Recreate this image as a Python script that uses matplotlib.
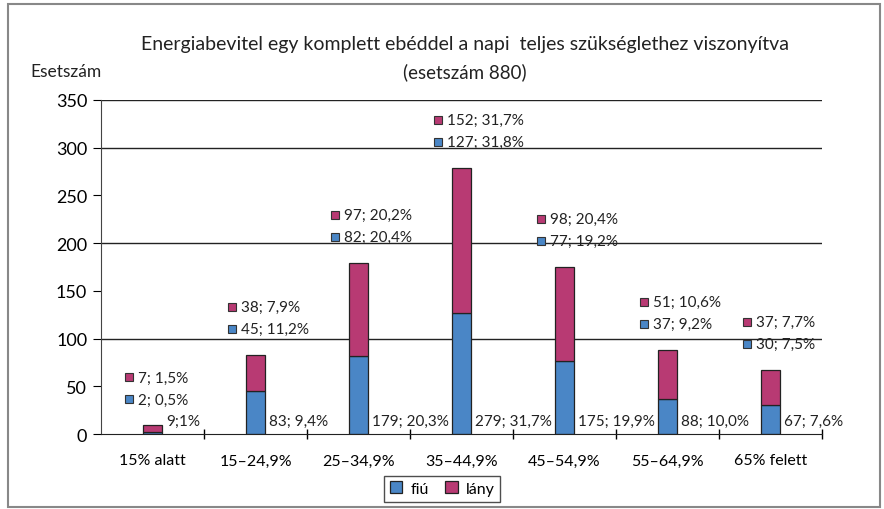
import matplotlib.pyplot as plt
from matplotlib.patches import Rectangle
from matplotlib.transforms import offset_copy
import numpy as np

plt.rcParams['font.family'] = ['Lato', 'DejaVu Sans']

# Data
categories = ["15% alatt", "15–24,9%", "25–34,9%", "35–44,9%", "45–54,9%", "55–64,9%", "65% felett"]
fiu = [2, 45, 82, 127, 77, 37, 30]
lany = [7, 38, 97, 152, 98, 51, 37]
fiu_pct = ["0,5%", "11,2%", "20,4%", "31,8%", "19,2%", "9,2%", "7,5%"]
lany_pct = ["1,5%", "7,9%", "20,2%", "31,7%", "20,4%", "10,6%", "7,7%"]
total_labels = ["9;1%", "83; 9,4%", "179; 20,3%", "279; 31,7%", "175; 19,9%", "88; 10,0%", "67; 7,6%"]

blue = "#4a86c6"
magenta = "#b83a73"

fig = plt.figure(figsize=(8.84, 5.10), dpi=100)
ax = fig.add_axes([0.1143, 0.147, 0.8157, 0.655])

x = np.arange(len(categories))
w = 0.19
ax.bar(x, fiu, w, color=blue, edgecolor="#222222", linewidth=0.9, label="fiú")
ax.bar(x, lany, w, bottom=fiu, color=magenta, edgecolor="#222222", linewidth=0.9, label="lány")

ax.set_xlim(-0.5, len(categories) - 0.5)
ax.set_ylim(0, 350)
ax.set_yticks(range(0, 351, 50))
ax.tick_params(axis="y", labelsize=13, length=6, direction="out", pad=4)
ax.set_xticks(x)
ax.set_xticklabels(categories, fontsize=11.5)
ax.tick_params(axis="x", length=0, pad=14)
ax.set_xticks(np.arange(0.5, len(categories) - 0.4, 1), minor=True)
ax.tick_params(axis="x", which="minor", length=7, direction="inout", width=1)

for yv in [100, 200, 300, 350]:
    ax.axhline(yv, color="#222222", linewidth=1, zorder=0)

for s in ["top", "right"]:
    ax.spines[s].set_visible(False)
ax.spines["left"].set_color("#444444")
ax.spines["bottom"].set_color("#222222")

# Labels: small square key + "value; percent" above each bar
for i in range(len(categories)):
    top = fiu[i] + lany[i]
    for val, pct, col, dy in [(lany[i], lany_pct[i], magenta, 48), (fiu[i], fiu_pct[i], blue, 26)]:
        tr = offset_copy(ax.transData, fig=fig, x=-24, y=dy, units="dots")
        ax.plot([x[i]], [top], marker="s", ms=6, color=col, mec="#333333", mew=0.8,
                transform=tr, clip_on=False)
        ax.annotate(f"{val}; {pct}", (x[i], top), xytext=(-15, dy), textcoords="offset pixels",
                    ha="left", va="center", fontsize=11, color="#222222")
    ax.annotate(total_labels[i], (x[i] + w / 2, 0), xytext=(4, 6), textcoords="offset pixels",
                ha="left", va="bottom", fontsize=11, color="#222222")

fig.text(0.526, 0.912, "Energiabevitel egy komplett ebéddel a napi  teljes szükséglethez viszonyítva",
         ha="center", va="center", fontsize=14, color="#222222")
fig.text(0.526, 0.858, "(esetszám 880)", ha="center", va="center", fontsize=13.5, color="#222222")
fig.text(0.034, 0.858, "Esetszám", ha="left", va="center", fontsize=12.5, color="#222222")

ax.legend(loc="center", bbox_to_anchor=(0.5, 0.04), bbox_transform=fig.transFigure,
          ncol=2, frameon=True, fancybox=False, edgecolor="#222222", fontsize=11.5,
          handlelength=0.8, handleheight=0.8, columnspacing=1.0, handletextpad=0.5,
          borderpad=0.35)

fig.patches.append(Rectangle((0.009, 0.004), 0.986, 0.986, transform=fig.transFigure,
                             fill=False, edgecolor="#888888", linewidth=1.5))

fig.savefig("out.png", dpi=100)
